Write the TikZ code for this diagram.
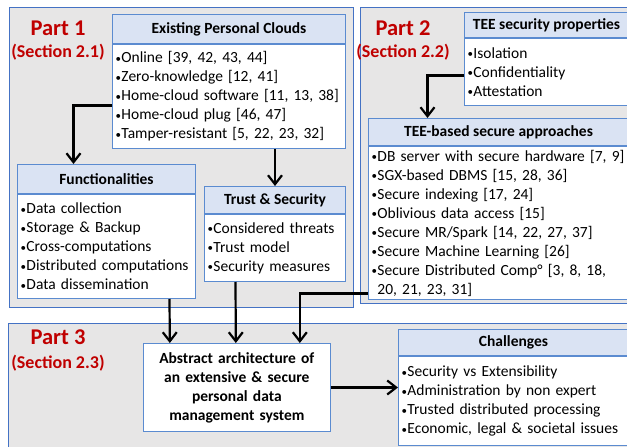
\documentclass[tikz,border=0pt]{standalone}
\usepackage{fontspec}
\setmainfont{Carlito}
\usetikzlibrary{arrows.meta,positioning}
\definecolor{panelgray}{RGB}{231,230,230}
\definecolor{paneledge}{RGB}{68,114,196}
\definecolor{headblue}{RGB}{218,227,243}
\definecolor{boxedge}{RGB}{91,139,208}
\definecolor{partred}{RGB}{192,0,0}
\newcommand{\bul}{{\fontsize{11}{11}\selectfont\raisebox{0.1ex}{•}}\hspace{0.5pt}}
\tikzset{
  panel/.style={fill=panelgray,draw=paneledge,line width=1pt},
  titlebox/.style={draw=boxedge,fill=headblue,line width=1pt,inner sep=0pt,anchor=north west,
    font=\bfseries\fontsize{15.5}{19}\selectfont},
  listbox/.style={draw=boxedge,fill=white,line width=1pt,inner xsep=3pt,inner ysep=0pt,
    align=left,anchor=north,font=\fontsize{15.5}{19}\selectfont},
  part/.style={text=partred,font=\bfseries\fontsize{22.5}{24}\selectfont},
  sect/.style={text=partred,font=\bfseries\fontsize{18}{20}\selectfont},
  arr/.style={line width=2.2pt,-{Straight Barb[length=9pt,width=14pt]}}
}
\begin{document}
\begin{tikzpicture}[x=1pt,y=-1pt]
  \useasboundingbox (0,0) rectangle (627,447);
  \clip (0,0) rectangle (627,447);
  % background panels
  \draw[panel] (9,7) rectangle (353,307);
  \draw[panel] (360,7) rectangle (640,303);
  \draw[panel] (8,323) rectangle (640,460);
  \node[part] (p1) at (58,28) {Part 1};
  \node[sect] (s1) at (58,52) {(Section 2.1)};
  \node[part] (p2) at (403,28) {Part 2};
  \node[sect] (s2) at (403,52) {(Section 2.2)};
  \node[part] (p3) at (58,337) {Part 3};
  \node[sect] (s3) at (58,363) {(Section 2.3)};
  %
  % Part 1
  \node[titlebox,minimum width=233pt,minimum height=29pt] (clhead) at (112,14) {Existing Personal Clouds};
  \node[listbox,text width=227pt,minimum height=104pt,below=0pt of clhead] (clbody) {%
    \bul Online [39, 42, 43, 44]\\
    \bul Zero-knowledge [12, 41]\\
    \bul Home-cloud software [11, 13, 38]\\
    \bul Home-cloud plug [46, 47]\\
    \bul Tamper-resistant [5, 22, 23, 32]};
  \node[titlebox,minimum width=178pt,minimum height=29pt] (fnhead) at (17,164) {Functionalities};
  \node[listbox,text width=172pt,minimum height=104pt,below=0pt of fnhead] (fnbody) {%
    \bul Data collection\\
    \bul Storage \& Backup\\
    \bul Cross-computations\\
    \bul Distributed computations\\
    \bul Data dissemination};
  \node[titlebox,minimum width=141pt,minimum height=27pt] (tshead) at (204,186) {Trust \& Security};
  \node[listbox,text width=135pt,minimum height=67pt,below=0pt of tshead] (tsbody) {%
    \bul Considered threats\\
    \bul Trust model\\
    \bul Security measures};
  %
  % Part 2
  \node[titlebox,minimum width=164pt,minimum height=25pt] (tphead) at (464,12) {TEE security properties};
  \node[listbox,text width=158pt,minimum height=67pt,below=0pt of tphead] (tpbody) {%
    \bul Isolation\\
    \bul Confidentiality\\
    \bul Attestation};
  \node[titlebox,minimum width=260pt,minimum height=27pt] (aphead) at (368,118) {TEE-based secure approaches};
  \node[listbox,text width=254pt,minimum height=153pt,below=0pt of aphead] (apbody) {%
    \bul DB server with secure hardware [7, 9]\\
    \bul SGX-based DBMS [15, 28, 36]\\
    \bul Secure indexing [17, 24]\\
    \bul Oblivious data access [15]\\
    \bul Secure MR/Spark [14, 22, 27, 37]\\
    \bul Secure Machine Learning [26]\\
    \bul Secure Distributed Comp° [3, 8, 18,\\
    \phantom{\bul}20, 21, 23, 31]};
  %
  % Part 3
  \node[draw=boxedge,fill=white,line width=1pt,anchor=north west,text width=180pt,minimum height=88pt,
    align=center,font=\bfseries\fontsize{15.5}{19}\selectfont] (abstract) at (143,343)
    {Abstract architecture of\\ an extensive \& secure\\ personal data\\ management system};
  \node[titlebox,minimum width=230pt,minimum height=26pt] (chhead) at (398,329) {Challenges};
  \node[listbox,text width=224pt,minimum height=89pt,below=0pt of chhead] (chbody) {%
    \bul Security vs Extensibility\\
    \bul Administration by non expert\\
    \bul Trusted distributed processing\\
    \bul Economic, legal \& societal issues};
  %
  % arrows
  \draw[arr] ([yshift=-9pt]clbody.west) -| ([xshift=-33pt]fnhead.north);
  \draw[arr] (clbody.south -| tshead.north) -- (tshead.north);
  \draw[arr] ([yshift=-3.5pt]tpbody.west) -| ([xshift=-71pt]aphead.north);
  \draw[arr] ([xshift=63pt]fnbody.south) -- ([xshift=-67pt]abstract.north);
  \draw[arr] ([xshift=-39.5pt]tsbody.south) -- ([xshift=-1pt]abstract.north);
  \draw[arr] ([yshift=-70.5pt]apbody.west) -| ([xshift=63pt]abstract.north);
  \draw[arr] (abstract.east) -- (abstract.east -| chbody.west);
\end{tikzpicture}
\end{document}
